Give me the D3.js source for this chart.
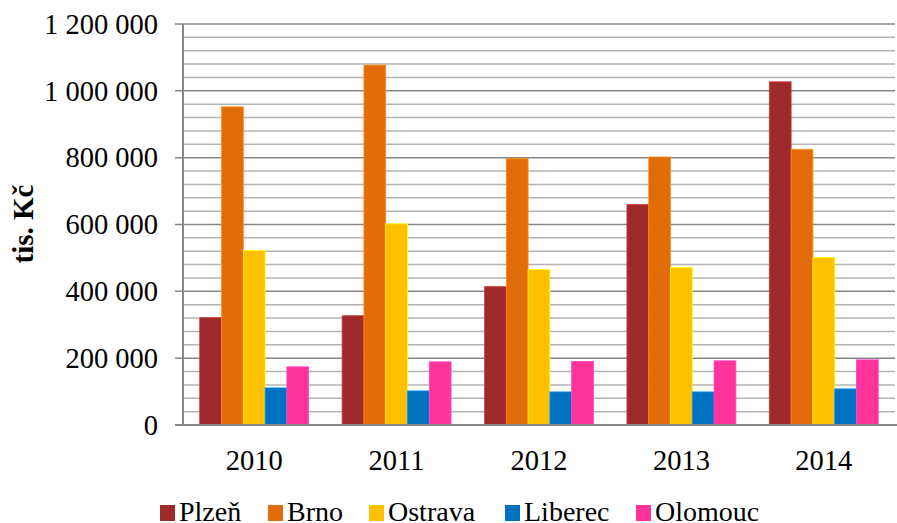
<html>
<head>
<meta charset="utf-8">
<style>
  body { margin:0; padding:0; background:#fff; }
  svg { display:block; }
  text { font-family: "Liberation Serif", "DejaVu Serif", serif; fill:#000; }
</style>
</head>
<body>
<svg width="897" height="523"></svg>
<script src="https://d3js.org/d3.v7.min.js"></script>
<script>
var years = ["2010", "2011", "2012", "2013", "2014"];
var cities = ["Plzeň", "Brno", "Ostrava", "Liberec", "Olomouc"];
var colors = ["#9e2a2b", "#e36c0a", "#ffc000", "#0070c0", "#ff3399"];

var plzen   = [321000, 327000, 414000, 660000, 1027000];
var brno    = [952000, 1077000, 797000, 802000, 825000];
var ostrava = [522000, 602000, 465000, 471000, 501000];
var liberec = [111000, 102000, 99000, 99000, 108000];
var olomouc = [174000, 189000, 190000, 192000, 195000];
var series = [plzen, brno, ostrava, liberec, olomouc];

var yTicks = [0, 200000, 400000, 600000, 800000, 1000000, 1200000];

var svg = d3.select("svg");
var plotLeft = 183, plotRight = 895, plotTop = 24, plotBottom = 425;

var x = d3.scaleBand().domain(years).range([plotLeft, plotRight]).paddingInner(0.235).paddingOuter(0.1175);
var xInner = d3.scaleBand().domain(cities).range([0, x.bandwidth()]);
var y = d3.scaleLinear().domain([0, 1200000]).range([plotBottom, plotTop]);

function fmt(v) { return d3.format(",")(v).replace(/,/g, " "); }

// minor gridlines
svg.append("g").selectAll("line")
  .data(d3.range(40000, 1200000, 40000).filter(function(v){ return v % 200000 != 0; }))
  .enter().append("line")
  .attr("x1", plotLeft).attr("x2", plotRight)
  .attr("y1", function(d){ return y(d); }).attr("y2", function(d){ return y(d); })
  .attr("stroke", "#b4b4b4").attr("stroke-width", 1.5);

// major gridlines
svg.append("g").selectAll("line")
  .data(yTicks.slice(1))
  .enter().append("line")
  .attr("x1", plotLeft - 8).attr("x2", plotRight)
  .attr("y1", function(d){ return y(d); }).attr("y2", function(d){ return y(d); })
  .attr("stroke", "#878787").attr("stroke-width", 1.5);

// bars
series.forEach(function(vals, si) {
  svg.append("g").selectAll("rect")
    .data(vals)
    .enter().append("rect")
    .attr("x", function(d, i){ return x(years[i]) + xInner(cities[si]); })
    .attr("width", xInner.bandwidth())
    .attr("y", function(d){ return y(d); })
    .attr("height", function(d){ return y(0) - y(d); })
    .attr("fill", colors[si])
    .attr("stroke", d3.color(colors[si]).brighter(0.8))
    .attr("stroke-width", 0.8);
});

// axes lines
svg.append("line").attr("x1", plotLeft).attr("x2", plotLeft).attr("y1", plotTop).attr("y2", plotBottom)
  .attr("stroke", "#878787").attr("stroke-width", 2);
svg.append("line").attr("x1", plotLeft - 8).attr("x2", plotRight + 2).attr("y1", plotBottom).attr("y2", plotBottom)
  .attr("stroke", "#878787").attr("stroke-width", 2);

// y tick labels
svg.append("g").selectAll("text")
  .data(yTicks)
  .enter().append("text")
  .attr("x", 158)
  .attr("y", function(d){ return y(d); })
  .attr("dy", "0.34em")
  .attr("text-anchor", "end")
  .style("font-size", "28.5px")
  .text(fmt);

// x labels
svg.append("g").selectAll("text")
  .data(years)
  .enter().append("text")
  .attr("x", function(d){ return x(d) + x.bandwidth() / 2; })
  .attr("y", 470)
  .attr("text-anchor", "middle")
  .style("font-size", "28.5px")
  .text(function(d){ return d; });

// y title
svg.append("text")
  .attr("transform", "translate(33,224) rotate(-90)")
  .attr("text-anchor", "middle")
  .style("font-size", "29px")
  .style("font-weight", "bold")
  .text("tis. Kč");

// legend
var legX = [160, 268, 369, 505, 636];
var leg = svg.append("g").selectAll("g")
  .data(cities)
  .enter().append("g")
  .attr("transform", function(d, i){ return "translate(" + legX[i] + ",0)"; });
leg.append("rect").attr("x", 0).attr("y", 505).attr("width", 15).attr("height", 16)
  .attr("fill", function(d, i){ return colors[i]; });
leg.append("text").attr("x", 19).attr("y", 521)
  .style("font-size", "28px")
  .text(function(d){ return d; });
</script>
</body>
</html>
